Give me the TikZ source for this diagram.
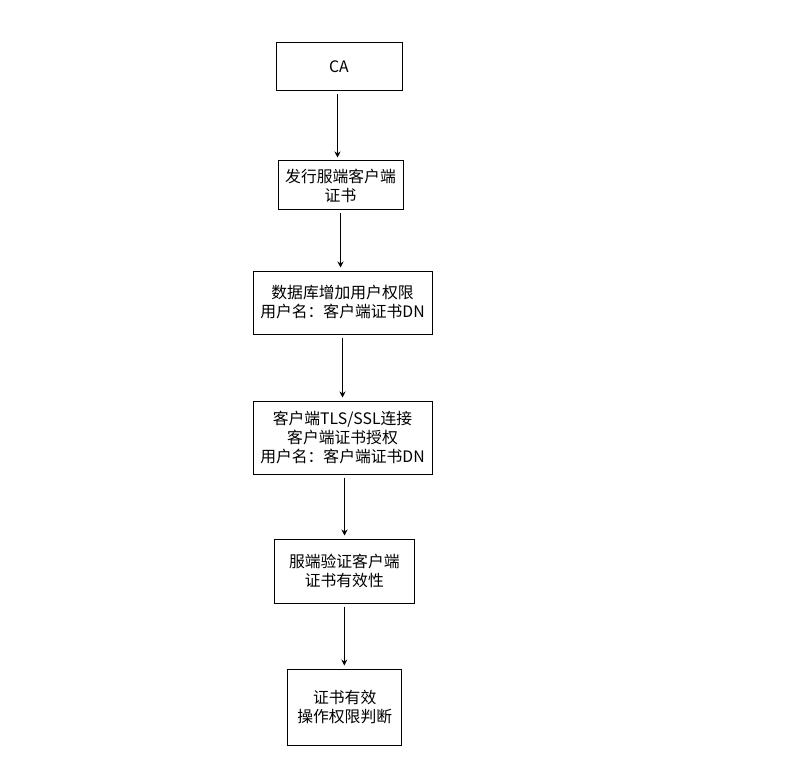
\documentclass[tikz,border=0pt]{standalone}
\usepackage{fontspec}
\setmainfont{Liberation Sans}
\newfontfamily\cjk{Noto Sans CJK SC}
\usetikzlibrary{arrows.meta,positioning}

\begin{document}
\begin{tikzpicture}[
    x=1pt, y=-1pt,
    stepbox/.style={draw, line width=1pt, inner sep=0pt, align=center, font=\cjk\fontsize{15.8}{19}\selectfont},
    arr/.style={-{Stealth[length=6pt, width=6pt]}, line width=0.9pt, shorten <=3pt, shorten >=3pt}
]
\useasboundingbox (0,0) rectangle (794,767);

\node[stepbox, minimum width=126pt, minimum height=48pt] (ca) at (339,67) {CA};
\node[stepbox, minimum width=125pt, minimum height=49pt] (issue) at (340.5,185.5) {发行服端客户端\\证书};
\node[stepbox, minimum width=179pt, minimum height=63pt] (grant) at (342.5,302.5) {数据库增加用户权限\\用户名：客户端证书DN};
\node[stepbox, minimum width=179pt, minimum height=73pt] (conn) at (342.5,437.5) {客户端TLS/SSL连接\\客户端证书授权\\用户名：客户端证书DN};
\node[stepbox, minimum width=140pt, minimum height=64pt] (verify) at (344.3,571) {服端验证客户端\\证书有效性};
\node[stepbox, minimum width=114pt, minimum height=76pt] (check) at (344.7,707) {证书有效\\操作权限判断};

\draw[arr] (ca.south -| issue.north) ++(-3,0) coordinate (c1) -- (c1 |- issue.north);
\draw[arr] (issue.south) -- (issue.south |- grant.north);
\draw[arr] (grant.south) -- (grant.south |- conn.north);
\draw[arr] (conn.south) ++(2,0) coordinate (c4) -- (c4 |- verify.north);
\draw[arr] (verify.south) -- (verify.south |- check.north);
\end{tikzpicture}
\end{document}
